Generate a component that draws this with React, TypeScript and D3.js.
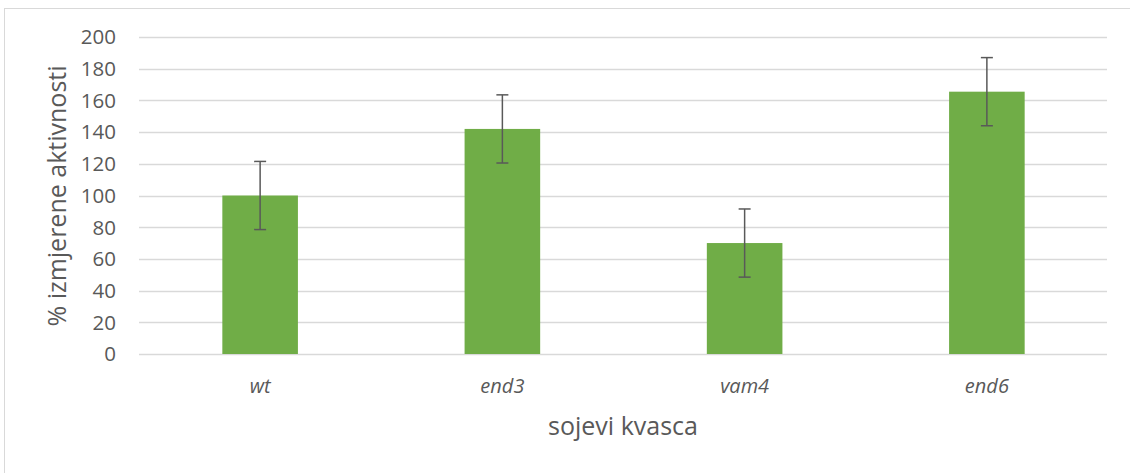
import React from "react";
import * as d3 from "d3";

const categories = ["wt", "end3", "vam4", "end6"];
const values = [100, 142, 70, 165.5];
const errors = [21.5, 21.5, 21.5, 21.5];
const yTicks = [0, 20, 40, 60, 80, 100, 120, 140, 160, 180, 200];
const yTitle = "% izmjerene aktivnosti";
const xTitle = "sojevi kvasca";

const W = 1130;
const H = 473;
const FONT = "'Open Sans', 'Noto Sans', sans-serif";
const TEXT = "#595959";
const GRID = "#d9d9d9";
const BAR = "#70ad47";

export default function App() {
  const left = 139;
  const right = 1108;
  const top = 37;
  const bottom = 354;
  const x = d3.scaleBand<string>().domain(categories).range([left, right]).paddingInner(0.688).paddingOuter(0.344);
  const y = d3.scaleLinear().domain([0, 200]).range([bottom, top]);
  const bw = x.bandwidth();
  const cap = 6;

  return (
    <svg width={W} height={H} style={{ position: "fixed", left: 0, top: 0, background: "#fff" }}>
      <rect x={0} y={0} width={W} height={H} fill="#fff" />
      <rect x={4.5} y={8.5} width={W + 10} height={H + 10} fill="none" stroke={GRID} strokeWidth={1} />
      {yTicks.map((t) => (
        <g key={t}>
          <line x1={left} x2={right - 1} y1={Math.round(y(t)) + 0.5} y2={Math.round(y(t)) + 0.5} stroke={GRID} strokeWidth={1.3} />
          <text x={116} y={y(t)} dy="0.36em" textAnchor="end" fontFamily={FONT} fontSize={20.5} fill={TEXT}>
            {t}
          </text>
        </g>
      ))}
      {categories.map((c, i) => {
        const cx = (x(c) as number) + bw / 2;
        return (
          <g key={c}>
            <rect x={x(c)} y={y(values[i])} width={bw} height={y(0) - y(values[i])} fill={BAR} />
            <line x1={cx} x2={cx} y1={y(values[i] + errors[i])} y2={y(values[i] - errors[i])} stroke={TEXT} strokeWidth={1.5} />
            <line x1={cx - cap} x2={cx + cap} y1={y(values[i] + errors[i])} y2={y(values[i] + errors[i])} stroke={TEXT} strokeWidth={1.5} />
            <line x1={cx - cap} x2={cx + cap} y1={y(values[i] - errors[i])} y2={y(values[i] - errors[i])} stroke={TEXT} strokeWidth={1.5} />
            <text x={cx} y={393} textAnchor="middle" fontFamily={FONT} fontStyle="italic" fontSize={20} fill={TEXT}>
              {c}
            </text>
          </g>
        );
      })}
      <text x={623} y={435} textAnchor="middle" fontFamily={FONT} fontSize={25} fill={TEXT}>
        {xTitle}
      </text>
      <text transform="translate(66,196) rotate(-90)" textAnchor="middle" fontFamily={FONT} fontSize={25} fill={TEXT}>
        {yTitle}
      </text>
    </svg>
  );
}
